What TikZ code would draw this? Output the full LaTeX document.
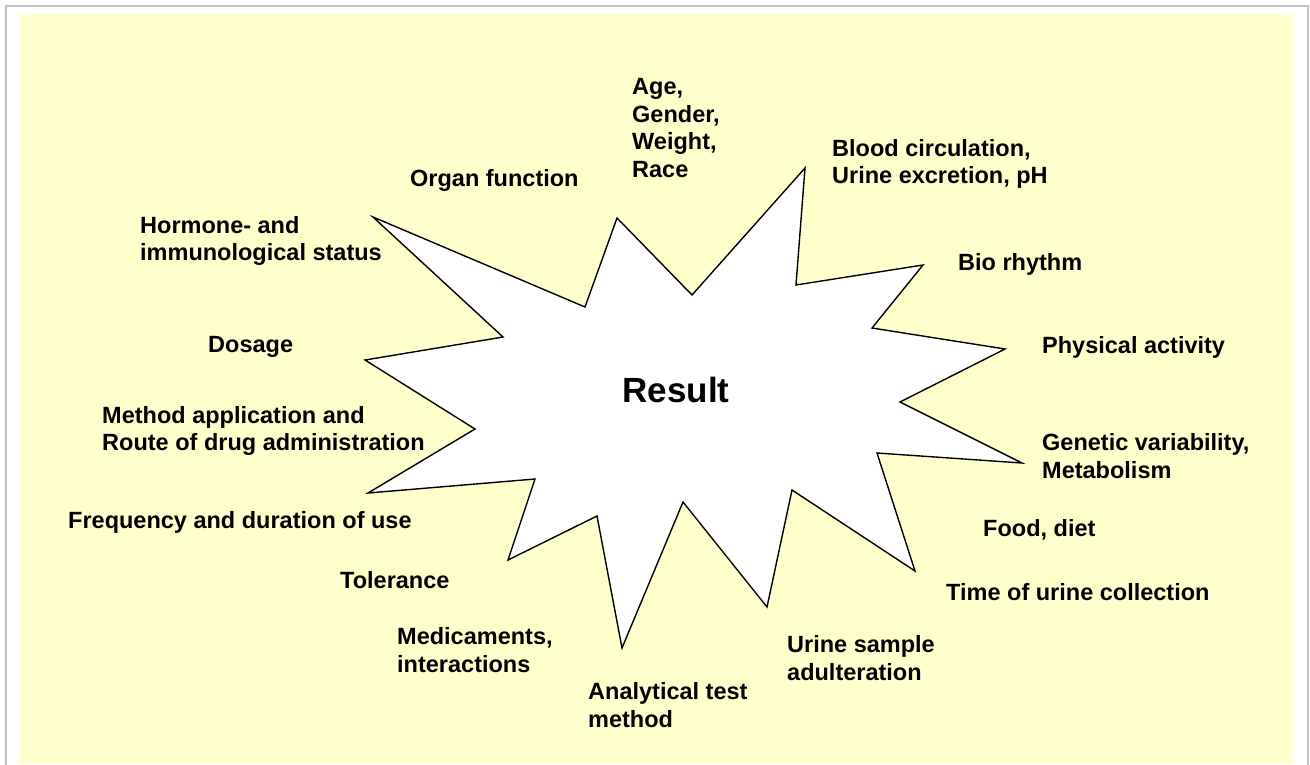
\documentclass[tikz,border=0pt]{standalone}
\usepackage{fontspec}
\setmainfont{Liberation Sans}
\usepackage{xcolor}
\usepackage{tikz}
\definecolor{bgyellow}{HTML}{FFFFCC}
\definecolor{framegray}{HTML}{C0C0C0}

\begin{document}
\begin{tikzpicture}[x=1pt, y=-1pt,
        factor/.style={anchor=west, align=left, inner sep=0pt, font=\bfseries\fontsize{23.5}{27.5}\selectfont},
        core/.style={inner sep=0pt, font=\bfseries\fontsize{35}{40}\selectfont},
        star/.style={draw=black, fill=white, line width=1.4pt, line join=miter}]

        \useasboundingbox (0,0) rectangle (1310,764);
        \fill[white] (0,0) rectangle (1310,764);
        \draw[framegray, line width=2pt] (6,780) -- (6,6) -- (1308,6) -- (1308,780);
        \fill[bgyellow] (20,14) rectangle (1293,764);

        \draw[star] (805,168) -- (796,285) -- (923,265) -- (872,328) -- (1005,349)
            -- (900,402) -- (1022,463) -- (877,453) -- (915,571) -- (792,490)
            -- (767,607) -- (683,502) -- (622,648) -- (597,516) -- (508,560)
            -- (535,479) -- (368,493) -- (475,429) -- (365,360) -- (503,337)
            -- (373,217) -- (585,307) -- (617,218) -- (692,295) -- cycle;

        \node (result) [core] at (676,390) {Result};

        \node (organ) [factor] at (410,180) {Organ function};
        \node (age) [factor] at (632,128) {Age,\\Gender,\\Weight,\\Race};
        \node (blood) [factor] at (832,164) {Blood circulation,\\Urine excretion, pH};
        \node (bio) [factor] at (958,264) {Bio rhythm};
        \node (phys) [factor] at (1042,347) {Physical activity};
        \node (genetic) [factor] at (1042,456) {Genetic variability,\\Metabolism};
        \node (food) [factor] at (983,530) {Food, diet};
        \node (collect) [factor] at (946,592) {Time of urine collection};
        \node (adult) [factor] at (787,658) {Urine sample\\adulteration};
        \node (analyt) [factor] at (588,705) {Analytical test\\method};
        \node (medic) [factor] at (397,650) {Medicaments,\\interactions};
        \node (toler) [factor] at (340,580) {Tolerance};
        \node (freq) [factor] at (68,522) {Frequency and duration of use};
        \node (method) [factor] at (102,431) {Method application and\\Route of drug administration};
        \node (dosage) [factor] at (208,347) {Dosage};
        \node (hormone) [factor] at (140,241) {Hormone- and\\immunological status};
    \end{tikzpicture}
\end{document}
